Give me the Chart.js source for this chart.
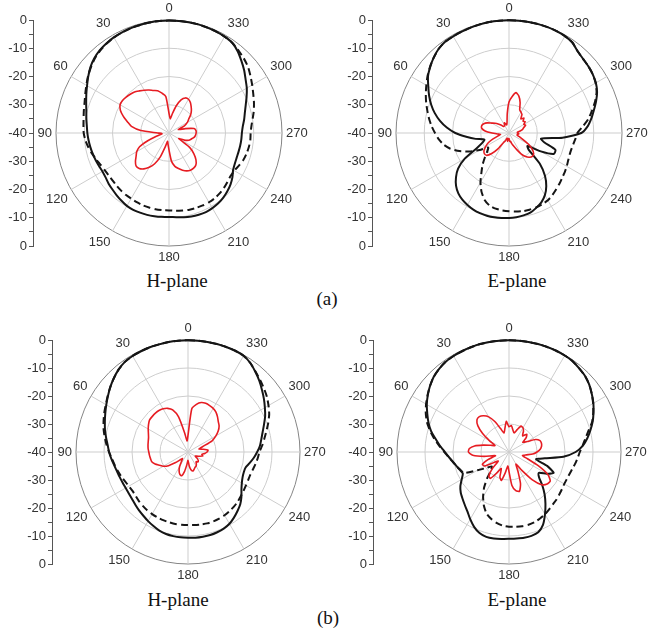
<!DOCTYPE html>
<html lang="en">
<head>
<meta charset="UTF-8">
<title>H-plane / E-plane radiation patterns</title>
<script src="https://cdn.jsdelivr.net/npm/chart.js"></script>
<style>
  body { margin: 0; background: #fff; }
  #page { position: relative; width: 650px; height: 642px; overflow: hidden; background: #fff; }
  #page canvas { position: absolute; }
  .cap { position: absolute; width: 120px; text-align: center; font-family: "Liberation Serif", "Times New Roman", serif; font-size: 19px; line-height: 19px; color: #111; }
</style>
</head>
<body>
<div id="page">
  <div class="cap" style="left:117px; top:271px;">H-plane</div>
  <div class="cap" style="left:457px; top:271px;">E-plane</div>
  <div class="cap" style="left:267px; top:289px;">(a)</div>
  <div class="cap" style="left:118px; top:590px;">H-plane</div>
  <div class="cap" style="left:457px; top:590px;">E-plane</div>
  <div class="cap" style="left:268px; top:608px;">(b)</div>
</div>
<script>
// angle in degrees, counter-clockwise from the top (0 up, 90 left)
const angles = [0, 5, 10, 15, 20, 25, 30, 35, 40, 45, 50, 55, 60, 65, 70, 75, 80, 85,
  90, 95, 100, 105, 110, 115, 120, 125, 130, 135, 140, 145, 150, 155, 160, 165, 170, 175,
  180, 185, 190, 195, 200, 205, 210, 215, 220, 225, 230, 235, 240, 245, 250, 255, 260, 265,
  270, 275, 280, 285, 290, 295, 300, 305, 310, 315, 320, 325, 330, 335, 340, 345, 350, 355];
const angleTicks = [0, 30, 60, 90, 120, 150, 180, 210, 240, 270, 300, 330];
const radialTicks = ['0', '-10', '-20', '-30', '-40', '-30', '-20', '-10', '0'];

// (a) H-plane, dB
const aH_solid = [
  -0.2, -0.2, -0.3, -0.4, -0.5, -0.7, -0.9, -1.3, -1.8,
  -2.6, -3.7, -5.1, -6.5, -7.7, -8.8, -9.7, -10.3, -10.8,
  -11.1, -11.4, -11.7, -12.0, -12.3, -12.6, -12.8, -12.6, -12.1,
  -11.7, -11.2, -10.7, -10.2, -10.0, -10.0, -10.0, -10.1, -10.2,
  -10.3, -10.1, -9.7, -9.4, -9.2, -9.1, -9.3, -9.6, -10.1,
  -10.8, -11.6, -12.6, -13.8, -14.3, -14.5, -14.5, -14.4, -14.3,
  -14.2, -13.8, -13.0, -12.2, -11.1, -9.7, -8.2, -6.9, -5.3,
  -3.8, -2.2, -1.0, -0.6, -0.4, -0.3, -0.2, -0.2, -0.2];
const aH_dashed = [
  -0.2, -0.2, -0.3, -0.4, -0.5, -0.7, -1.0, -1.4, -2.0,
  -2.8, -3.9, -5.0, -6.2, -7.3, -8.2, -8.8, -9.3, -9.6,
  -9.8, -10.3, -11.0, -11.8, -12.6, -13.3, -13.7, -13.9, -13.9,
  -13.7, -13.5, -13.3, -13.2, -13.0, -12.8, -12.7, -12.6, -12.6,
  -12.6, -12.4, -12.1, -11.9, -11.8, -11.7, -11.7, -11.8, -12.1,
  -12.5, -13.0, -13.4, -13.3, -12.7, -12.0, -11.6, -11.3, -11.1,
  -11.1, -10.7, -9.9, -8.9, -8.0, -7.1, -6.0, -4.8, -3.5,
  -2.6, -1.8, -1.0, -0.6, -0.4, -0.3, -0.2, -0.2, -0.2];
const aH_red = [
  -33, -27, -25.7, -24.5, -24, -23.2, -22.5, -21.8, -21,
  -20.6, -20.2, -19.9, -20.0, -21.0, -22.8, -24.8, -26.5, -30,
  -36, -37.5, -37, -35, -32, -28.5, -26.8, -25.8, -24.5,
  -23.5, -23.6, -24.5, -26, -28, -31, -35, -37, -36,
  -34, -30, -28, -27, -26, -25.2, -24.8, -24.8, -25.2,
  -26.5, -28.5, -31, -36, -34, -32.5, -31.8, -31, -30.6,
  -30.4, -30.4, -31, -34, -36.5, -34, -32.5, -31.5, -30,
  -28.8, -27.8, -26.8, -26.2, -26.3, -27.5, -30, -33, -35];

// (a) E-plane, dB
const aE_solid = [
  -0.1, -0.1, -0.1, -0.2, -0.3, -0.4, -0.5, -0.6, -1.2,
  -2.3, -3.6, -5.0, -7.0, -8.8, -10.7, -12.8, -15.2, -17.9,
  -21.0, -24.8, -28.0, -31.0, -30.0, -27.5, -22.0, -18.0, -15.5,
  -13.5, -12.1, -11.2, -10.6, -10.1, -9.8, -9.7, -9.7, -9.8,
  -9.9, -10.1, -10.4, -10.8, -11.8, -12.9, -14.6, -17.0, -20.2,
  -24.5, -31.0, -32.0, -27.0, -22.5, -22.5, -27.0, -28.5, -21.0,
  -14.4, -12.0, -10.4, -8.9, -7.2, -5.6, -4.5, -3.8, -3.3,
  -2.9, -2.2, -0.9, -0.4, -0.2, -0.1, -0.1, -0.1, -0.1];
const aE_dashed = [
  -0.1, -0.1, -0.1, -0.2, -0.3, -0.4, -0.5, -0.6, -1.2,
  -2.3, -3.5, -4.8, -6.2, -7.5, -8.8, -10.1, -11.3, -12.5,
  -13.8, -15.0, -16.5, -18.5, -21.3, -24.5, -28.0, -31.0, -30.0,
  -28.0, -25.5, -23.0, -19.8, -17.0, -14.8, -13.4, -12.8, -12.5,
  -12.3, -12.1, -11.9, -11.9, -12.0, -12.2, -12.5, -13.2, -14.0,
  -14.7, -15.4, -15.9, -16.4, -16.9, -17.2, -17.2, -16.9, -16.4,
  -15.8, -13.8, -11.5, -9.6, -7.6, -5.8, -4.6, -3.8, -3.3,
  -2.9, -2.2, -0.9, -0.4, -0.2, -0.1, -0.1, -0.1, -0.1];
const aE_red = [
  -29, -33, -36, -37, -36.5, -36, -37, -37, -37,
  -36, -35, -34, -33, -31.5, -30.5, -30, -30.2, -31.5,
  -34, -36, -37, -36, -34, -32, -30.5, -29.2, -28.6,
  -28.8, -30.5, -33, -36, -37, -38, -38, -37, -38,
  -38, -37, -37, -36, -35, -33.5, -31.5, -29.8, -28.8,
  -28.3, -28.6, -30, -32, -34.5, -36, -37, -37, -36.5,
  -37, -37, -36, -35, -34.5, -33.5, -34, -33, -33.5,
  -32.5, -33.5, -32, -31.5, -31, -28.5, -26.5, -25.5, -27];

// (b) H-plane, dB
const bH_solid = [
  -0.1, -0.1, -0.1, -0.2, -0.2, -0.3, -0.4, -0.7, -1.5,
  -2.6, -3.8, -5.1, -6.3, -7.4, -8.4, -9.3, -10.3, -11.2,
  -11.8, -12.5, -13.2, -13.7, -14.0, -14.2, -14.3, -14.2, -13.9,
  -13.4, -12.8, -12.2, -11.5, -10.8, -10.1, -9.7, -9.5, -9.4,
  -9.4, -9.3, -9.3, -9.3, -9.5, -9.8, -10.4, -11.4, -12.5,
  -13.6, -15.1, -16.7, -17.8, -18.5, -18.8, -18.7, -17.6, -16.4,
  -15.3, -14.2, -13.4, -12.4, -11.1, -9.6, -8.3, -6.9, -5.5,
  -4.0, -2.6, -1.2, -0.3, -0.1, -0.1, -0.1, -0.1, -0.1];
const bH_dashed = [
  -0.1, -0.1, -0.1, -0.2, -0.2, -0.3, -0.4, -0.7, -1.5,
  -2.6, -3.8, -5.0, -6.1, -7.0, -7.9, -8.8, -9.8, -10.8,
  -11.8, -12.7, -13.4, -14.0, -14.6, -15.2, -15.6, -15.8, -15.6,
  -15.2, -14.9, -14.6, -14.4, -14.2, -14.1, -14.0, -13.9, -13.9,
  -13.9, -13.8, -13.7, -13.6, -13.6, -13.7, -13.9, -14.2, -14.5,
  -14.9, -15.4, -15.8, -16.1, -16.3, -16.3, -16.0, -15.5, -15.0,
  -14.5, -13.4, -12.3, -11.0, -9.5, -8.0, -6.8, -5.6, -4.6,
  -3.6, -2.5, -1.2, -0.3, -0.1, -0.1, -0.1, -0.1, -0.1];
const bH_red = [
  -34, -36, -33, -27, -24, -22.8, -22.2, -21.9, -21.9,
  -22.0, -22.1, -22.8, -23.6, -24.4, -25.0, -25.3, -25.5, -25.7,
  -26.0, -26.2, -26.4, -26.6, -27.5, -28.8, -29.8, -31.5, -34,
  -36, -37, -36, -34, -32.5, -31.5, -31.2, -33, -35.5,
  -37, -35, -33.5, -33, -33.5, -34, -34.2, -34.8, -35.5,
  -35, -35.2, -36, -37, -36.5, -35.5, -34.5, -35, -34,
  -33.2, -32.8, -34.5, -36, -34.5, -30.5, -28.5, -26.8, -25.5,
  -24.7, -23.6, -22.6, -22.0, -21.7, -21.5, -21.7, -22.7, -24.5];

// (b) E-plane, dB
const bE_solid = [
  -0.1, -0.1, -0.1, -0.1, -0.2, -0.3, -0.4, -0.6, -1.2,
  -2.0, -3.2, -4.6, -6.1, -7.8, -9.4, -11.2, -13.4, -15.3,
  -17.1, -18.5, -19.7, -20.6, -21.3, -21.8, -20.5, -18.8, -17.5,
  -16.5, -15.4, -14.1, -12.3, -10.5, -9.2, -8.6, -8.6, -8.8,
  -9.0, -9.0, -8.9, -9.0, -9.5, -11.3, -14.3, -17.3, -20.2,
  -23.2, -26.0, -27.0, -24.5, -22.4, -25.5, -30.0, -27.0, -20.5,
  -16.2, -13.5, -11.6, -9.9, -8.2, -6.7, -5.2, -3.9, -2.6,
  -1.6, -1.0, -0.4, -0.2, -0.1, -0.1, -0.1, -0.1, -0.1];
const bE_dashed = [
  -0.1, -0.1, -0.1, -0.1, -0.2, -0.3, -0.4, -0.6, -1.2,
  -2.0, -3.2, -4.5, -5.8, -7.2, -8.8, -10.8, -12.9, -15.0,
  -16.9, -18.4, -19.6, -20.5, -21.5, -22.2, -27.0, -30.0, -32.0,
  -31.0, -28.0, -24.5, -21.5, -18.8, -16.6, -15.3, -14.3, -13.6,
  -13.3, -13.2, -13.1, -13.1, -13.3, -13.8, -14.3, -15.0, -15.6,
  -16.0, -16.5, -16.9, -17.2, -17.2, -17.0, -16.6, -16.0, -15.4,
  -14.7, -13.6, -12.3, -10.6, -8.4, -6.8, -5.3, -3.9, -2.6,
  -1.6, -1.0, -0.4, -0.2, -0.1, -0.1, -0.1, -0.1, -0.1];
const bE_red = [
  -31, -29, -31.5, -33, -31, -28, -25.5, -24.2, -23.5,
  -23.8, -25.5, -28.5, -32, -34.5, -33, -30.5, -27.5, -25.8,
  -25.5, -27, -31, -35, -32, -29.5, -30, -33.5, -35,
  -31.5, -28.8, -28.5, -31.5, -33.5, -30.5, -29.5, -32.5, -35,
  -33, -28, -26, -25.5, -28, -32.5, -35, -32, -27,
  -23.5, -22.2, -22, -24, -28.5, -33, -35, -34, -31.5,
  -30, -28.8, -28.2, -28, -28.2, -29.5, -32.5, -34, -32,
  -31, -32.5, -31, -30, -29.8, -31.5, -33, -32, -30.5];

const BLACK = '#151515';
const RED = 'rgb(230, 28, 34)';
const SANS = '"Liberation Sans", Arial, sans-serif';

function addCanvas(left, top, w, h) {
    let c = document.createElement('canvas');
    c.width = w;
    c.height = h;
    c.style.left = left + 'px';
    c.style.top = top + 'px';
    document.getElementById('page').appendChild(c);
    return c.getContext('2d');
}

// radar runs clockwise, these plots run counter-clockwise
function toChartOrder(values) {
    let n = angles.length;
    return angles.map((a, i) => values[(n - i) % n]);
}

function drawPolar(cx, cy, R, solid, dashed, red) {
    let w = 290, h = 276;
    let ctx = addCanvas(cx - w / 2, cy - h / 2, w, h);
    new Chart(ctx, {
        type: 'radar',
        data: {
            labels: toChartOrder(angles),
            datasets: [
                { data: toChartOrder(red), borderColor: RED, borderWidth: 1.6 },
                { data: toChartOrder(solid), borderColor: BLACK, borderWidth: 2 },
                { data: toChartOrder(dashed), borderColor: BLACK, borderWidth: 2, borderDash: [7, 4] }
            ]
        },
        options: {
            responsive: false,
            animation: false,
            layout: { padding: 0 },
            elements: {
                line: { fill: false, tension: 0.2 },
                point: { radius: 0, hitRadius: 0 }
            },
            plugins: { legend: { display: false }, tooltip: { enabled: false } },
            scales: {
                r: {
                    min: -40,
                    max: 0,
                    ticks: { stepSize: 10, display: false },
                    grid: {
                        circular: true,
                        color: c => c.tick && c.tick.value === 0 ? '#858585' : '#cdcdcd',
                        lineWidth: 1
                    },
                    angleLines: {
                        color: c => c.label !== '' ? '#cdcdcd' : 'rgba(0,0,0,0)',
                        lineWidth: 1
                    },
                    pointLabels: {
                        padding: 4,
                        color: '#333',
                        font: { family: SANS, size: 13 },
                        callback: l => angleTicks.includes(l) ? String(l) : ''
                    },
                    // keep the circle the same size as in the figure
                    afterSetDimensions: s => { s.drawingArea = R; }
                }
            }
        }
    });
}

function drawAxis(x, top, len) {
    let ctx = addCanvas(x - 36, top - 10, 40, len + 20);
    new Chart(ctx, {
        type: 'scatter',
        data: { datasets: [] },
        options: {
            responsive: false,
            animation: false,
            layout: { padding: { top: 10, bottom: 10, left: 0, right: 0 } },
            plugins: { legend: { display: false }, tooltip: { enabled: false } },
            scales: {
                x: { display: false, min: 0, max: 1 },
                y: {
                    min: -40,
                    max: 40,
                    afterFit: s => { s.width = 36; },
                    ticks: {
                        stepSize: 5,
                        autoSkip: false,
                        padding: 2,
                        color: '#333',
                        font: { family: SANS, size: 13 },
                        callback: (v, i) => i % 2 === 0 ? radialTicks[radialTicks.length - 1 - i / 2] : ''
                    },
                    grid: { drawOnChartArea: false, tickLength: 4, color: '#555' },
                    border: { color: '#555' }
                }
            }
        }
    });
}

drawAxis(33, 20, 226);
drawPolar(169, 133, 113, aH_solid, aH_dashed, aH_red);
drawAxis(372, 20, 226);
drawPolar(509, 133, 113, aE_solid, aE_dashed, aE_red);
drawAxis(52, 340, 224);
drawPolar(188, 452, 112, bH_solid, bH_dashed, bH_red);
drawAxis(373, 340, 224);
drawPolar(509, 452, 112, bE_solid, bE_dashed, bE_red);
</script>
</body>
</html>
